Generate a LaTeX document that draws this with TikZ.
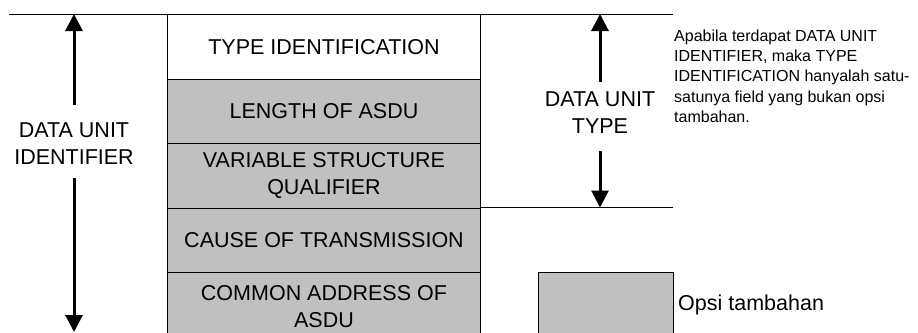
\documentclass[tikz,border=0pt]{standalone}
\usepackage{fontspec}
\setmainfont{Liberation Sans}
\usetikzlibrary{arrows.meta}
\definecolor{fieldgray}{HTML}{C0C0C0}
\begin{document}
\begin{tikzpicture}[x=1pt,y=-1pt,
  field/.style={draw=black, line width=1pt, minimum width=313pt, inner sep=0pt,
    anchor=north west, align=center, font=\fontsize{21.5}{27}\selectfont},
  grayfield/.style={field, fill=fieldgray},
  biglabel/.style={align=center, inner sep=0pt, font=\fontsize{21.5}{27}\selectfont},
  notetext/.style={align=left, inner sep=0pt, anchor=north west, font=\fontsize{16}{20.3}\selectfont},
  bigarrow/.style={line width=3pt, -{Triangle[width=17pt,length=17pt]}},
  thinline/.style={line width=1pt}
]
\useasboundingbox (0,0) rectangle (918,332);
\clip (0,0) rectangle (918,332);

% fields column
\node[field, minimum height=65pt] (f1) at (167,14) {TYPE IDENTIFICATION};
\node[grayfield, minimum height=64pt] (f2) at (167,79) {LENGTH OF ASDU};
\node[grayfield, minimum height=65pt] (f3) at (167,143) {VARIABLE STRUCTURE\\QUALIFIER};
\node[grayfield, minimum height=64pt] (f4) at (167,208) {CAUSE OF TRANSMISSION};
\node[grayfield, minimum height=68pt] (f5) at (167,272) {COMMON ADDRESS OF\\ASDU};

% top and right lines
\draw[thinline] (9,14) -- (673,14);
\draw[thinline] (480,207.5) -- (673,207.5);

% left label and arrows
\node[biglabel] (dui) at (74,143.5) {DATA UNIT\\IDENTIFIER};
\coordinate (duiTopTail) at (74,105);
\coordinate (duiTopTip) at (74,14);
\coordinate (duiBotTail) at (74,178);
\coordinate (duiBotTip) at (74,332);
\draw[bigarrow] (duiTopTail) -- (duiTopTip);
\draw[bigarrow] (duiBotTail) -- (duiBotTip);

% right label and arrows
\node[biglabel] (dut) at (600,112.5) {DATA UNIT\\TYPE};
\coordinate (dutTopTail) at (600,82);
\coordinate (dutTopTip) at (600,14);
\coordinate (dutBotTail) at (600,151);
\coordinate (dutBotTip) at (600,207.5);
\draw[bigarrow] (dutTopTail) -- (dutTopTip);
\draw[bigarrow] (dutBotTail) -- (dutBotTip);

% note
\node[notetext] (note) at (674,29.5) {Apabila terdapat DATA UNIT\\IDENTIFIER, maka TYPE\\IDENTIFICATION hanyalah satu-\\satunya field yang bukan opsi\\tambahan.};

% legend
\node[draw=black, line width=1pt, fill=fieldgray, anchor=north west, minimum width=135pt, minimum height=68pt, inner sep=0pt] (legend) at (538,272) {};
\node[anchor=west, inner sep=0pt, font=\fontsize{21.5}{27}\selectfont] (legendtext) at (678,305) {Opsi tambahan};
\end{tikzpicture}
\end{document}
